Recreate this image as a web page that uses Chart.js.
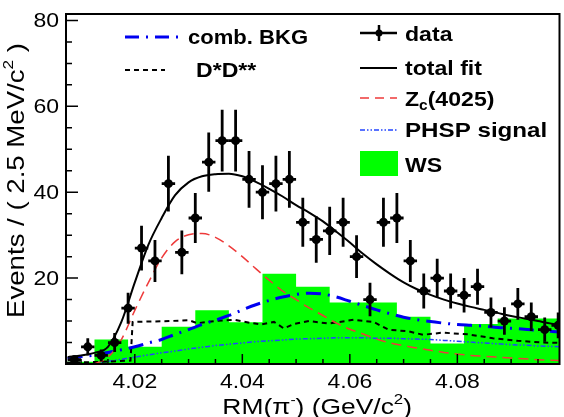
<!DOCTYPE html>
<html>
<head>
<meta charset="utf-8">
<script src="https://cdn.jsdelivr.net/npm/chart.js@4.4.1/dist/chart.umd.min.js"></script>
<style>
html, body { margin: 0; padding: 0; background: #fff; }
#spectrum { display: block; }
</style>
</head>
<body>
<canvas id="spectrum" width="564" height="417"></canvas>
<script>
// data, 2.5 MeV bins
const dataX = [4.00875, 4.01125, 4.01375, 4.01625, 4.01875, 4.02125, 4.02375, 4.02625, 4.02875, 4.03125,
    4.03375, 4.03625, 4.03875, 4.04125, 4.04375, 4.04625, 4.04875, 4.05125, 4.05375, 4.05625,
    4.05875, 4.06125, 4.06375, 4.06625, 4.06875, 4.07125, 4.07375, 4.07625, 4.07875, 4.08125,
    4.08375, 4.08625, 4.08875, 4.09125, 4.09375, 4.09625, 4.09875];
const dataY = [1, 4, 2, 5, 13, 27, 24, 42, 26, 34, 47, 52, 52, 43, 40, 42, 43, 33, 29, 31,
    33, 25, 15, 33, 34, 24, 17, 20, 17, 16, 18, 12, 10, 14, 11, 8, 9];
const dataErr = [1.0, 2.0, 1.4, 2.2, 3.6, 5.2, 4.9, 6.5, 5.1, 5.8, 6.9, 7.2, 7.2, 6.6, 6.3, 6.5, 6.6, 5.7, 5.4, 5.6,
    5.7, 5.0, 3.9, 5.7, 5.8, 4.9, 4.1, 4.5, 4.1, 4.0, 4.2, 3.5, 3.2, 3.7, 3.3, 2.8, 3.0];
const binHalf = 0.00125;

// WS histogram (bin edges + contents)
const wsEdges = [4.00625, 4.0125, 4.01875, 4.025, 4.03125, 4.0375, 4.04375, 4.05, 4.05625,
    4.0625, 4.06875, 4.075, 4.08125, 4.0875, 4.09375, 4.1];
const wsValues = [0.5, 5.7, 4.0, 8.7, 12.5, 9.7, 21, 18, 14.3, 14.3, 11, 4.8, 9.3, 10.6, 10.6];

// fit curves, read at these masses
const curveX = [4.0075, 4.0100, 4.0125, 4.0150, 4.0175, 4.0200, 4.0225, 4.0250, 4.0275, 4.0300,
    4.0325, 4.0350, 4.0375, 4.0400, 4.0425, 4.0450, 4.0475, 4.0500, 4.0525, 4.0550,
    4.0575, 4.0600, 4.0625, 4.0650, 4.0675, 4.0700, 4.0725, 4.0750, 4.0775, 4.0800,
    4.0825, 4.0850, 4.0875, 4.0900, 4.0925, 4.0950, 4.0975, 4.1000];
const totalFit = [1.6, 2.0, 2.6, 4.0, 9.8, 19.0, 27.7, 34.0, 39.3, 42.3,
    43.7, 44.2, 44.3, 43.7, 42.4, 40.8, 39.0, 37.0, 35.2, 33.2,
    30.8, 28.3, 25.6, 23.2, 21.0, 19.0, 17.4, 16.1, 15.0, 14.1,
    13.3, 12.6, 11.9, 11.2, 10.6, 10.0, 9.4, 9.0];
const zc4025 = [null, null, 0, 1.6, 5.7, 12.5, 18.9, 24.7, 28.5, 30.1,
    30.4, 29.5, 27.5, 25.0, 22.2, 19.5, 17.0, 15.0, 13.0, 11.3,
    9.5, 8.1, 7.0, 5.8, 4.9, 4.3, 3.7, 3.2, 2.7, 2.3,
    2.0, 1.8, 1.6, 1.4, 1.2, 1.0, 0.9, 0.8];
const combBkg = [1.3, 1.7, 2.1, 2.7, 3.3, 4.0, 4.9, 5.7, 6.9, 8.0,
    9.2, 10.2, 11.3, 12.6, 13.8, 14.8, 15.6, 16.2, 16.5, 16.3,
    15.6, 14.6, 13.6, 12.6, 11.7, 10.9, 10.3, 9.9, 9.5, 9.2,
    9.0, 8.8, 8.5, 8.3, 8.1, 7.8, 7.6, 7.4];
const phspSignal = [null, null, 0, 0.6, 1.1, 1.6, 2.1, 2.6, 3.0, 3.5,
    3.9, 4.3, 4.6, 4.9, 5.2, 5.4, 5.6, 5.8, 5.9, 6.0,
    6.1, 6.1, 6.1, 6.0, 6.0, 5.9, 5.8, 5.7, 5.5, 5.3,
    5.1, 4.9, 4.7, 4.5, 4.4, 4.2, 4.1, 4.0];

// D*D** shape
const ddX = [4.0072, 4.0135, 4.0192, 4.0196, 4.0264, 4.0301, 4.0316, 4.0348, 4.0385, 4.0413,
    4.0435, 4.0459, 4.0477, 4.0496, 4.0524, 4.0561, 4.0607, 4.0644, 4.0672, 4.0709,
    4.0736, 4.0773, 4.0820, 4.0866, 4.0912, 4.0959, 4.1000];
const ddY = [0.3, 0.5, 0.8, 9.8, 10.0, 10.2, 9.5, 10.0, 10.3, 9.6,
    9.2, 9.8, 8.3, 9.3, 10.0, 9.4, 10.3, 9.8, 8.0, 7.6,
    6.8, 7.3, 6.9, 6.0, 5.4, 5.0, 4.9];

// axes
const xTicks = [4.02, 4.04, 4.06, 4.08];
const xTickLabels = ['4.02', '4.04', '4.06', '4.08'];
const xMinorStart = 4.01, xMinorStep = 0.005, xMinorCount = 18;
const yTicks = [20, 40, 60, 80];
const yTickLabels = ['20', '40', '60', '80'];
const yMinorStep = 5, yMinorCount = 17;

const FAMILY = '"Liberation Sans", Arial, sans-serif';
const RED = '#ee3a3a', BLUE = '#0000f0', PHSP_BLUE = '#2244ff', GREEN = '#00ff00';

function pts(xs, ys) {
    return xs.map((x, i) => ({ x: x, y: ys[i] }));
}

// draw text pieces (sub/superscripts), stretched along the text direction
function drawRuns(ctx, runs, x, y, o) {
    ctx.save();
    ctx.translate(x, y);
    if (o.rot) ctx.rotate(o.rot);
    ctx.scale(o.sx || 1, 1);
    ctx.textBaseline = 'alphabetic';
    ctx.textAlign = 'left';
    ctx.fillStyle = '#000';
    const weight = o.bold ? 'bold ' : '';
    let total = 0;
    runs.forEach(r => {
        ctx.font = weight + r.size + 'px ' + FAMILY;
        r.w = ctx.measureText(r.t).width;
        total += r.w;
    });
    let cx = o.align === 'right' ? -total : (o.align === 'center' ? -total / 2 : 0);
    runs.forEach(r => {
        ctx.font = weight + r.size + 'px ' + FAMILY;
        ctx.fillText(r.t, cx, r.dy || 0);
        cx += r.w;
    });
    ctx.restore();
}

const errorBars = {
    id: 'errorBars',
    afterDatasetsDraw(chart) {
        const { ctx, chartArea: a, scales: { x, y } } = chart;
        ctx.save();
        ctx.beginPath();
        ctx.rect(a.left, a.top, a.right - a.left, a.bottom - a.top);
        ctx.clip();
        ctx.strokeStyle = '#000';
        ctx.lineWidth = 2.8;
        dataX.forEach((xv, i) => {
            const px = x.getPixelForValue(xv);
            const py = y.getPixelForValue(dataY[i]);
            ctx.beginPath();
            ctx.moveTo(px, y.getPixelForValue(dataY[i] - dataErr[i]));
            ctx.lineTo(px, y.getPixelForValue(dataY[i] + dataErr[i]));
            ctx.moveTo(x.getPixelForValue(xv - binHalf), py);
            ctx.lineTo(x.getPixelForValue(xv + binHalf), py);
            ctx.stroke();
        });
        ctx.restore();
    }
};

const frameAndText = {
    id: 'frameAndText',
    afterDraw(chart) {
        const { ctx, chartArea: a, scales: { x, y } } = chart;
        ctx.save();
        ctx.strokeStyle = '#000';
        ctx.lineWidth = 2;
        ctx.strokeRect(a.left, a.top, a.right - a.left, a.bottom - a.top);

        // ticks point inwards
        ctx.lineWidth = 1.5;
        ctx.beginPath();
        for (let i = 0; i < xMinorCount; i++) {
            const v = xMinorStart + i * xMinorStep;
            const px = x.getPixelForValue(v);
            const major = xTicks.some(t => Math.abs(t - v) < 1e-6);
            ctx.moveTo(px, a.bottom);
            ctx.lineTo(px, a.bottom - (major ? 10 : 5));
        }
        for (let i = 0; i < yMinorCount; i++) {
            const v = i * yMinorStep;
            const py = y.getPixelForValue(v);
            const major = v % 20 === 0;
            ctx.moveTo(a.left, py);
            ctx.lineTo(a.left + (major ? 12 : 6), py);
        }
        ctx.stroke();

        xTicks.forEach((v, i) => {
            drawRuns(ctx, [{ t: xTickLabels[i], size: 20 }], x.getPixelForValue(v), 388, { sx: 1.15, align: 'center' });
        });
        yTicks.forEach((v, i) => {
            drawRuns(ctx, [{ t: yTickLabels[i], size: 20 }], 59, y.getPixelForValue(v) + 7, { sx: 1.15, align: 'right' });
        });

        // axis titles
        drawRuns(ctx, [{ t: 'RM(\u03c0', size: 22 }, { t: '-', size: 13, dy: -10 }, { t: ') (GeV/c', size: 22 },
            { t: '2', size: 14, dy: -10 }, { t: ')', size: 22 }], 412, 414, { sx: 1.2, align: 'right' });
        drawRuns(ctx, [{ t: 'Events / ( 2.5 MeV/c', size: 24 }, { t: '2', size: 15, dy: -11 }, { t: ' )', size: 24 }],
            24, 43, { sx: 1.15, align: 'right', rot: -Math.PI / 2 });

        // legend, left box
        const sample = (x0, x1, yy, color, width, dash) => {
            ctx.save();
            ctx.strokeStyle = color;
            ctx.lineWidth = width;
            ctx.setLineDash(dash);
            ctx.beginPath();
            ctx.moveTo(x0, yy);
            ctx.lineTo(x1, yy);
            ctx.stroke();
            ctx.restore();
        };
        const lg = { sx: 1.1, bold: true, align: 'left' };
        sample(125, 178, 37, BLUE, 3, [14, 7, 2, 7]);
        drawRuns(ctx, [{ t: 'comb. BKG', size: 21 }], 188, 44, { sx: 1.05, bold: true, align: 'left' });
        sample(125, 165, 70, '#000', 2, [5, 4]);
        drawRuns(ctx, [{ t: 'D*D**', size: 21 }], 196, 77, lg);

        // legend, right box
        sample(360, 397, 33, '#000', 2.5, []);
        ctx.beginPath();
        ctx.moveTo(379, 25);
        ctx.lineTo(379, 41);
        ctx.lineWidth = 2.5;
        ctx.stroke();
        ctx.beginPath();
        ctx.arc(379, 33, 3.5, 0, Math.PI * 2);
        ctx.fillStyle = '#000';
        ctx.fill();
        drawRuns(ctx, [{ t: 'data', size: 21 }], 405, 41, lg);
        sample(360, 397, 68, '#000', 2, []);
        drawRuns(ctx, [{ t: 'total fit', size: 21 }], 405, 75, lg);
        sample(360, 397, 98, RED, 1.5, [9, 6]);
        drawRuns(ctx, [{ t: 'Z', size: 21 }, { t: 'c', size: 14, dy: 4 }, { t: '(4025)', size: 21 }], 405, 106, lg);
        sample(360, 397, 130, PHSP_BLUE, 1.5, [5, 2, 1.5, 2, 1.5, 2]);
        drawRuns(ctx, [{ t: 'PHSP signal', size: 21 }], 405, 137, { sx: 1.15, bold: true, align: 'left' });
        ctx.fillStyle = GREEN;
        ctx.fillRect(360, 151, 38, 25);
        drawRuns(ctx, [{ t: 'WS', size: 21 }], 405, 172, lg);
        ctx.restore();
    }
};

const lineStyle = (color, width, dash) => ({
    borderColor: color,
    borderWidth: width,
    borderDash: dash,
    pointRadius: 0,
    fill: false,
    cubicInterpolationMode: 'monotone'
});

const spectrumChart = new Chart(document.getElementById('spectrum'), {
    type: 'line',
    data: {
        datasets: [
            {
                label: 'data',
                data: pts(dataX, dataY),
                showLine: false,
                pointRadius: 4.5,
                pointBackgroundColor: '#000',
                pointBorderWidth: 0,
                order: 0
            },
            Object.assign({ label: 'total fit', data: pts(curveX, totalFit), order: 1 }, lineStyle('#000', 2, [])),
            Object.assign({ label: 'Zc(4025)', data: pts(curveX, zc4025), order: 2 }, lineStyle(RED, 1.5, [10, 6])),
            Object.assign({ label: 'comb. BKG', data: pts(curveX, combBkg), order: 3 }, lineStyle(BLUE, 3, [15, 7, 2, 7])),
            Object.assign({ label: 'D*D**', data: pts(ddX, ddY), order: 4 }, lineStyle('#000', 2, [5, 4]), { cubicInterpolationMode: 'default', tension: 0 }),
            Object.assign({ label: 'PHSP signal', data: pts(curveX, phspSignal), order: 5 }, lineStyle(PHSP_BLUE, 1.5, [5, 2, 1.5, 2, 1.5, 2])),
            {
                label: 'WS',
                data: wsEdges.map((x, i) => ({ x: x, y: wsValues[Math.min(i, wsValues.length - 1)] })),
                stepped: true,
                fill: 'origin',
                backgroundColor: GREEN,
                borderColor: GREEN,
                borderWidth: 0,
                pointRadius: 0,
                order: 6
            }
        ]
    },
    options: {
        responsive: false,
        animation: false,
        events: [],
        layout: { padding: { left: 66, right: 2, top: 14, bottom: 53 } },
        plugins: { legend: { display: false }, tooltip: { enabled: false } },
        scales: {
            x: { type: 'linear', min: 4.0072, max: 4.0990, display: false },
            y: { type: 'linear', min: 0, max: 81.5, display: false }
        }
    },
    plugins: [errorBars, frameAndText]
});
</script>
</body>
</html>
